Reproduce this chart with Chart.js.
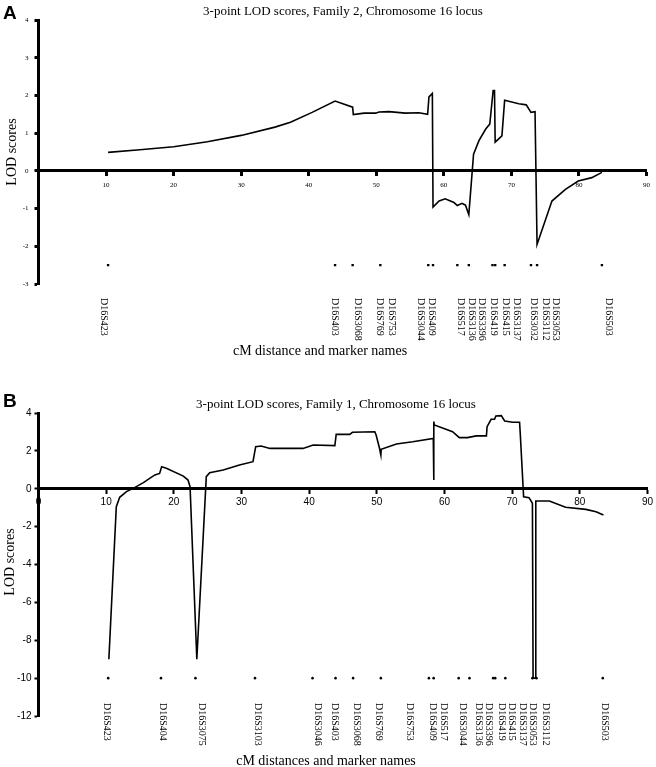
<!DOCTYPE html>
<html>
<head>
<meta charset="utf-8">
<title>3-point LOD scores, Chromosome 16 locus</title>
<script src="https://cdn.jsdelivr.net/npm/chart.js@4.4.1/dist/chart.umd.min.js"></script>
<style>
  html, body { margin: 0; padding: 0; background: #fff; }
  #wrap { position: relative; width: 656px; height: 767px; }
  canvas { position: absolute; left: 0; }
  #chartA { top: 0; }
  #chartB { top: 383px; }
</style>
</head>
<body>
<div id="wrap">
  <canvas id="chartA" width="656" height="383"></canvas>
  <canvas id="chartB" width="656" height="384"></canvas>
</div>
<script>
// Panel A - Family 2
const cmA = [10.3, 15, 20, 25, 30, 35, 37.3, 40.5, 43.9, 46.5, 46.6, 48.2, 49.9, 50.4, 51.9, 54.3, 56.3, 57.6, 57.8, 58.3,
    58.4, 59.3, 60.2, 61.5, 62.0, 62.7, 63.2, 63.7, 64.4, 65.2, 66.2, 66.8, 67.3, 67.5, 67.6, 68.6, 69.0, 71.1, 72.2, 72.9,
    73.5, 73.8, 76.0, 78.0, 79.9, 81.9, 83.4];
const lodA = [0.49, 0.56, 0.64, 0.77, 0.94, 1.16, 1.29, 1.55, 1.85, 1.69, 1.49, 1.53, 1.53, 1.56, 1.57, 1.53, 1.54, 1.50, 1.96, 2.05,
    -0.96, -0.80, -0.74, -0.84, -0.92, -0.86, -0.91, -1.16, 0.44, 0.80, 1.11, 1.24, 2.13, 2.13, 0.76, 0.93, 1.87, 1.78, 1.75, 1.55,
    1.57, -1.95, -0.80, -0.49, -0.27, -0.18, -0.04];
const markerCmA = [10.3, 43.9, 46.5, 50.6, 57.7, 58.4, 62.0, 63.7, 67.2, 67.6, 69.0, 72.9, 73.8, 83.4];
const markerLodA = -2.5;
const markerNamesA = ["D16S423", "D16S403", "D16S3068", "D16S769", "D16S753", "D16S3044", "D16S409", "D16S517", "D16S3136",
    "D16S3396", "D16S419", "D16S415", "D16S3137", "D16S3032", "D16S3112", "D16S3053", "D16S503"];
const nameCmA = [9.7, 43.9, 47.2, 50.5, 52.3, 56.6, 58.2, 62.5, 64.1, 65.6, 67.4, 69.1, 70.8, 73.3, 75.1, 76.5, 84.4];

// Panel B - Family 1
const cmB = [10.4, 11.5, 12.0, 13.0, 14.0, 15.5, 17.2, 17.9, 18.2, 18.9, 21.4, 22.1, 22.4, 23.4, 24.8, 25.3, 27.3, 29.7, 31.7, 32.1,
    32.9, 34.2, 37.1, 39.1, 40.6, 43.8, 44.0, 46.0, 46.4, 49.7, 49.9, 50.4, 50.6, 50.65, 52.9, 55.3, 58.35, 58.4, 58.45, 58.5,
    61.2, 62.2, 63.4, 64.7, 66.2, 66.3, 66.9, 67.4, 67.6, 68.4, 68.9, 70.1, 71.1, 71.2, 71.7, 72.5, 73.0, 73.1, 73.45, 73.5,
    75.5, 77.9, 80.9, 82.4, 83.5];
const lodB = [-9.0, -0.95, -0.45, -0.15, 0.02, 0.32, 0.73, 0.81, 1.16, 1.08, 0.67, 0.46, 0.11, -9.0, 0.64, 0.85, 0.99, 1.25, 1.43, 2.22,
    2.26, 2.13, 2.13, 2.13, 2.31, 2.28, 2.87, 2.87, 2.98, 3.01, 2.84, 2.14, 1.78, 2.08, 2.36, 2.48, 2.66, 0.46, 3.55, 3.37,
    3.01, 2.70, 2.70, 2.79, 2.79, 3.28, 3.67, 3.67, 3.84, 3.86, 3.58, 3.51, 3.51, 2.93, -0.42, -0.47, -0.77, -10, -10, -0.65,
    -0.65, -0.98, -1.09, -1.21, -1.39];
const markerCmB = [10.3, 18.1, 23.2, 32.0, 40.5, 43.9, 46.5, 50.6, 57.7, 58.4, 62.1, 63.7, 67.2, 67.5, 69.0, 73.0, 73.6, 83.4];
const markerLodB = -10;
const markerNamesB = ["D16S423", "D16S404", "D16S3075", "D16S3103", "D16S3046", "D16S403", "D16S3068", "D16S769", "D16S753",
    "D16S409", "D16S517", "D16S3044", "D16S3136", "D16S3396", "D16S419", "D16S415", "D16S3137", "D16S3053", "D16S3112", "D16S503"];
const nameCmB = [10.1, 18.4, 24.1, 32.4, 41.3, 43.8, 47.0, 50.3, 54.8, 58.2, 59.9, 62.7, 65.0, 66.6, 68.4, 70.0, 71.5, 73.1, 74.9, 83.6];

const SERIF = "'Liberation Serif', 'Times New Roman', serif";
const SANS = "'Liberation Sans', Arial, sans-serif";

const toPoints = (xs, ys) => xs.map((x, i) => ({ x: x, y: ys[i] }));

// titles, panel letter and the rotated marker names
const panelText = {
    id: 'panelText',
    afterDraw(chart, args, opts) {
        const { ctx, chartArea, scales } = chart;
        ctx.save();
        ctx.fillStyle = '#000';

        ctx.font = "bold 19px " + SANS;
        ctx.textAlign = 'left';
        ctx.textBaseline = 'top';
        ctx.fillText(opts.letter, 3, opts.letterTop);

        ctx.textAlign = 'center';
        ctx.textBaseline = 'middle';
        ctx.font = "13px " + SERIF;
        ctx.fillText(opts.title, opts.titleX, opts.titleY);

        ctx.font = "14px " + SERIF;
        ctx.fillText(opts.xTitle, opts.xTitleX, chartArea.bottom + opts.xTitleGap);

        ctx.save();
        ctx.translate(opts.yTitleX, opts.yTitleY);
        ctx.rotate(-Math.PI / 2);
        ctx.fillText('LOD scores', 0, 0);
        ctx.restore();

        ctx.font = "10px " + SERIF;
        ctx.textAlign = 'left';
        opts.names.forEach((name, i) => {
            const x = scales.x.getPixelForValue(opts.nameCm[i]);
            ctx.save();
            ctx.translate(x, chartArea.bottom + opts.nameGap);
            ctx.rotate(Math.PI / 2);
            ctx.fillText(name, 0, 0);
            ctx.restore();
        });
        ctx.restore();
    }
};

const makePanel = (id, cfg) => {
    new Chart(document.getElementById(id), {
        type: 'scatter',
        data: {
            datasets: [
                {
                    data: toPoints(cfg.cm, cfg.lod),
                    showLine: true,
                    borderColor: '#000',
                    borderWidth: 1.6,
                    pointRadius: 0,
                    tension: 0,
                },
                {
                    data: cfg.markers.map(x => ({ x: x, y: cfg.markerLod })),
                    showLine: false,
                    pointStyle: cfg.markerStyle,
                    pointRadius: cfg.markerRadius,
                    backgroundColor: '#000',
                    borderWidth: 0,
                },
            ],
        },
        options: {
            responsive: false,
            animation: false,
            layout: { padding: cfg.padding },
            plugins: {
                legend: { display: false },
                tooltip: { enabled: false },
                panelText: cfg.text,
            },
            scales: {
                x: {
                    type: 'linear',
                    min: 0,
                    max: 90,
                    position: { y: 0 },
                    border: { color: '#000', width: 3 },
                    grid: { drawOnChartArea: false, tickLength: 4, tickWidth: cfg.tickWidth, color: '#000' },
                    ticks: {
                        stepSize: 10,
                        color: '#000',
                        font: cfg.tickFont,
                        padding: cfg.xTickPad,
                        maxRotation: 0,
                        autoSkip: false,
                        callback: v => (v === 0 && cfg.hideZero) ? '' : v,
                    },
                },
                y: {
                    min: cfg.yMin,
                    max: cfg.yMax,
                    afterFit: s => { s.width = 38.5; },
                    border: { color: '#000', width: 3 },
                    grid: { drawOnChartArea: false, tickLength: 4, tickWidth: cfg.tickWidth, color: '#000' },
                    ticks: {
                        stepSize: cfg.yStep,
                        color: '#000',
                        font: cfg.tickFont,
                        padding: cfg.yTickPad,
                    },
                },
            },
        },
        plugins: [panelText],
    });
};

makePanel('chartA', {
    cm: cmA, lod: lodA, markers: markerCmA, markerLod: markerLodA,
    markerStyle: 'rect', markerRadius: 1.7,
    yMin: -3, yMax: 4, yStep: 1,
    padding: { top: 20, bottom: 99, left: 0, right: 8 },
    tickWidth: 3,
    tickFont: { family: SERIF, size: 7 },
    xTickPad: 6, yTickPad: 6,
    hideZero: true,
    text: {
        letter: 'A', letterTop: 4,
        title: '3-point LOD scores, Family 2, Chromosome 16 locus', titleX: 343, titleY: 12,
        xTitle: 'cM distance and marker names', xTitleX: 320, xTitleGap: 67,
        yTitleX: 12, yTitleY: 152,
        names: markerNamesA, nameCm: nameCmA, nameGap: 14,
    },
});

makePanel('chartB', {
    cm: cmB, lod: lodB, markers: markerCmB, markerLod: markerLodB,
    markerStyle: 'circle', markerRadius: 1.3,
    yMin: -12, yMax: 4, yStep: 2,
    padding: { top: 30, bottom: 51, left: 0, right: 8 },
    tickWidth: 2,
    tickFont: { family: SANS, size: 10 },
    xTickPad: 3, yTickPad: 3,
    hideZero: false,
    text: {
        letter: 'B', letterTop: 9,
        title: '3-point LOD scores, Family 1, Chromosome 16 locus', titleX: 336, titleY: 22,
        xTitle: 'cM distances and marker names', xTitleX: 326, xTitleGap: 45,
        yTitleX: 10, yTitleY: 179,
        names: markerNamesB, nameCm: nameCmB, nameGap: -13,
    },
});
</script>
</body>
</html>
